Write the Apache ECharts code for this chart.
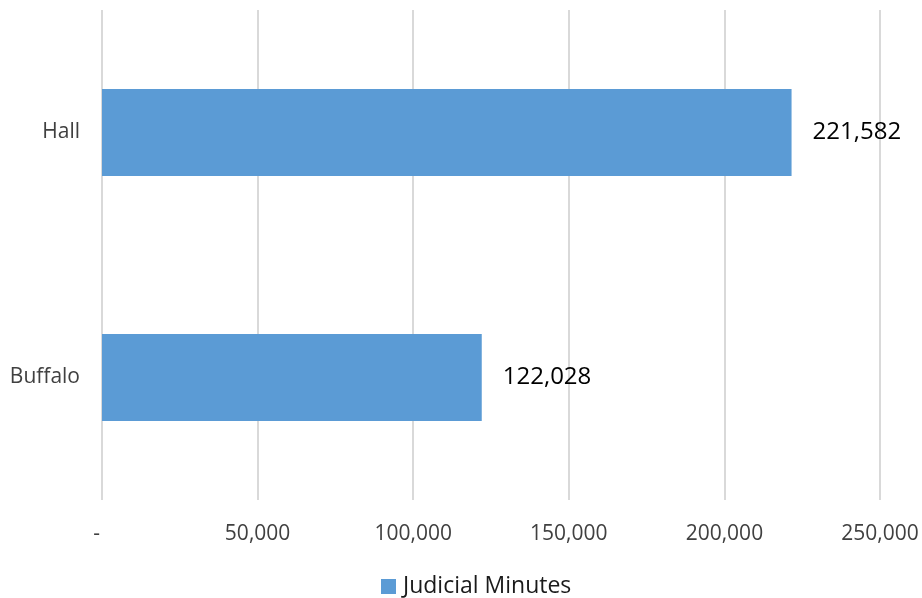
<!DOCTYPE html>
<html>
<head>
<meta charset="utf-8">
<script src="https://cdn.jsdelivr.net/npm/echarts@6/dist/echarts.min.js"></script>
<style>html,body{margin:0;padding:0;background:#fff}#c{width:922px;height:598px}</style>
</head>
<body>
<div id="c"></div>
<script>
const categories = ['Buffalo', 'Hall'];
const seriesName = 'Judicial Minutes';
const values = [122028, 221582];
const axisMin = 0, axisMax = 250000, axisInterval = 50000;

const fmt = v => v.toLocaleString('en-US');
const chart = echarts.init(document.getElementById('c'));
chart.setOption({
  animation: false,
  textStyle: { fontFamily: 'Open Sans' },
  grid: { left: 102, right: 42, top: 10, bottom: 98, containLabel: false },
  legend: {
    top: 570, left: 376, itemWidth: 15, itemHeight: 15, itemGap: 5,
    icon: 'rect',
    textStyle: { fontSize: 23, color: '#1a1a1a', fontFamily: 'Open Sans', padding: [0,0,0,2] },
    data: [seriesName]
  },
  xAxis: {
    type: 'value', min: axisMin, max: axisMax, interval: axisInterval,
    axisLine: { show: false }, axisTick: { show: false },
    splitLine: { lineStyle: { color: '#d9d9d9', width: 2 } },
    axisLabel: {
      margin: 24, fontSize: 21, color: '#404040',
      formatter: v => v === 0 ? '-  ' : fmt(v)
    }
  },
  yAxis: {
    type: 'category', data: categories,
    axisLine: { show: false }, axisTick: { show: false },
    axisLabel: { margin: 22, fontSize: 21, color: '#404040' }
  },
  series: [{
    name: seriesName, type: 'bar', data: values, barWidth: 87,
    itemStyle: { color: '#5B9BD5' },
    label: { show: true, position: 'right', distance: 21, fontSize: 24, color: '#000',
      formatter: p => fmt(p.value) }
  }]
});
</script>
</body>
</html>
